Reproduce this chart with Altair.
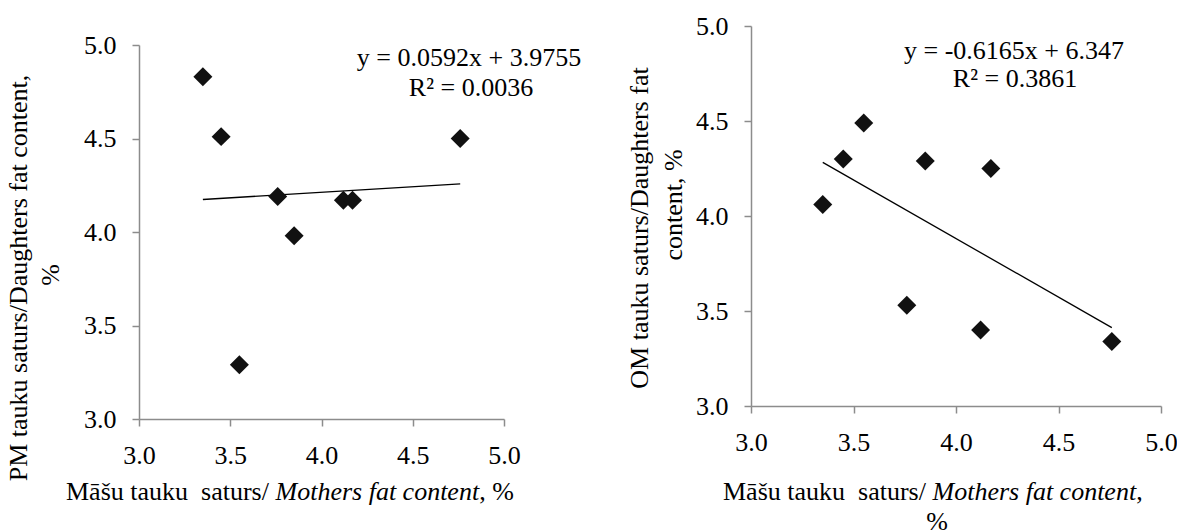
import altair as alt
import pandas as pd

# ---- data ----
mothers = [3.35, 3.45, 3.55, 3.76, 3.85, 4.12, 4.17, 4.76]
daughters_pm = [4.83, 4.51, 3.29, 4.19, 3.98, 4.17, 4.17, 4.50]
daughters_om = [4.06, 4.30, 4.49, 3.53, 4.29, 3.40, 4.25, 3.34]
tick_values = [3.0, 3.5, 4.0, 4.5, 5.0]
eq_pm = ["y = 0.0592x + 3.9755", "R² = 0.0036"]
eq_om = ["y = -0.6165x + 6.347", "R² = 0.3861"]
xtitle_a = "Māšu tauku\u00a0 saturs/"
xtitle_b = "Mothers fat content"
ytitle_pm = ["PM tauku saturs/Daughters fat content,", "%"]
ytitle_om = ["OM tauku saturs/Daughters fat", "content, %"]

df = pd.DataFrame({"m": mothers, "pm": daughters_pm, "om": daughters_om})

FONT = "Liberation Serif"
FS = 26


def label(text, x, y, align="left", angle=0, italic=False):
    return alt.Chart(alt.Data(values=[{}])).mark_text(
        text=text, align=align, baseline="alphabetic", angle=angle,
        font=FONT, fontSize=FS, fontStyle="italic" if italic else "normal",
        color="black",
    ).encode(x=alt.value(x), y=alt.value(y))


def panel(ycol, w, h, yrange, texts):
    xs = alt.Scale(domain=[3, 5], nice=False, zero=False)
    if yrange:
        ys = alt.Scale(domain=[3, 5], nice=False, zero=False, range=yrange)
    else:
        ys = alt.Scale(domain=[3, 5], nice=False, zero=False)
    xaxis = alt.Axis(values=tick_values, format=".1f", title=None)
    yaxis = alt.Axis(values=tick_values, format=".1f", title=None)
    base = alt.Chart(df)
    line = base.transform_regression("m", ycol).mark_line(
        color="black", strokeWidth=1.3
    ).encode(
        x=alt.X("m:Q", scale=xs, axis=xaxis),
        y=alt.Y(f"{ycol}:Q", scale=ys, axis=yaxis),
    )
    pts = base.mark_point(
        shape="diamond", filled=True, size=360, color="#111111", opacity=1
    ).encode(
        x=alt.X("m:Q", scale=xs, axis=xaxis),
        y=alt.Y(f"{ycol}:Q", scale=ys, axis=yaxis),
    )
    return alt.layer(line, pts, *texts).properties(width=w, height=h)


left_texts = [
    label(eq_pm[0], 330, 40, align="center"),
    label(eq_pm[1], 332, 70, align="center"),
    label(xtitle_a, -73, 474),
    label(xtitle_b, 136.5, 474, italic=True),
    label(", %", 340.2, 474),
    label(ytitle_pm[0], -112, 252, align="center", angle=270),
    label(ytitle_pm[1], -80, 249, align="center", angle=270),
]
right_texts = [
    label(eq_om[0], 263, 33, align="center"),
    label(eq_om[1], 264, 61, align="center"),
    label(xtitle_a, -28, 474),
    label(xtitle_b, 181.5, 474, italic=True),
    label(",", 385.2, 474),
    label("%", 186, 504, align="center"),
    label(ytitle_om[0], -103, 202, align="center", angle=270),
    label(ytitle_om[1], -69, 179, align="center", angle=270),
]

left = panel("pm", 365, 393, [393, 19], left_texts)
right = panel("om", 410, 380, None, right_texts)

chart = alt.hconcat(left, right, spacing=247, bounds="flush").properties(
    autosize=alt.AutoSizeParams(type="none"),
    padding={"left": 131, "top": 18, "right": 1038, "bottom": 520},
).configure_view(
    stroke="transparent"
).configure_axis(
    domainColor="#8c8c8c", tickColor="#8c8c8c", domainWidth=1.5, tickWidth=1.5,
    tickSize=7, labelFont=FONT, labelFontSize=FS, labelColor="black",
    labelPadding=16, grid=False, labelFlush=False, labelOverlap=False,
)

chart.save("out.html", embed_options={"renderer": "svg", "actions": False})
